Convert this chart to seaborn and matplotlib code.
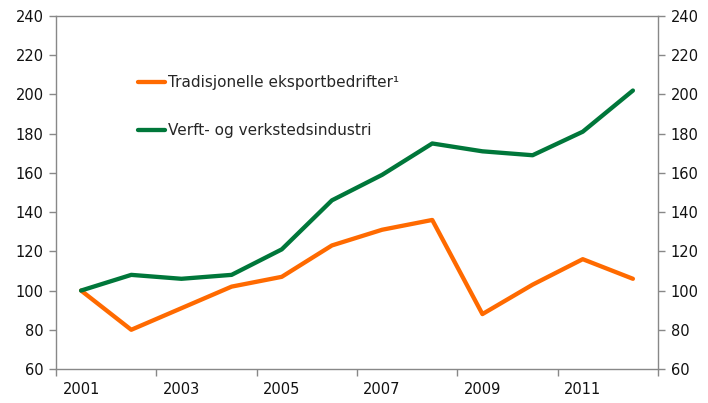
import pandas as pd
import numpy as np
import matplotlib
matplotlib.use("Agg")
import matplotlib.pyplot as plt
import matplotlib.ticker as mticker
import seaborn as sns

# ── Data ──────────────────────────────────────────────────────
years = [2001, 2002, 2003, 2004, 2005, 2006, 2007, 2008, 2009, 2010, 2011, 2012]
tradisjonelle = [100, 80, 91, 102, 107, 123, 131, 136, 88, 103, 116, 106]
verft = [100, 108, 106, 108, 121, 146, 159, 175, 171, 169, 181, 202]
series_names = ["Tradisjonelle eksportbedrifter\u00b9", "Verft- og verkstedsindustri"]
colors = ["#FF6A00", "#00773A"]

df = pd.DataFrame({
    "idx": list(range(len(years))) * 2,
    "value": tradisjonelle + verft,
    "serie": [series_names[0]] * len(years) + [series_names[1]] * len(years),
})

# ── Style ─────────────────────────────────────────────────────
sns.set_style("white")
plt.rcParams["font.family"] = ["DejaVu Sans"]
plt.rcParams["font.size"] = 10.5

fig = plt.figure(figsize=(7.08, 4.03), dpi=100)
ax = fig.add_axes([56 / 708, 34 / 403, 602 / 708, 353 / 403])

sns.lineplot(data=df, x="idx", y="value", hue="serie", palette=colors,
             linewidth=3.1, ax=ax, legend=True)

ax.set_xlim(-0.5, len(years) - 0.5)
ax.set_ylim(60, 240)
ax.yaxis.set_major_locator(mticker.MultipleLocator(20))

# category axis: labels every other year, tick marks at category borders
ax.set_xticks(range(0, len(years), 2))
ax.set_xticklabels([str(y) for y in years[::2]])
ax.set_xticks(np.arange(-0.5, len(years), 2), minor=True)
ax.tick_params(axis="x", which="major", length=0, pad=9, labelsize=10.5, colors="#111111")
ax.tick_params(axis="x", which="minor", length=5, width=1, color="#888888", direction="out", bottom=True)
ax.tick_params(axis="y", length=5, width=1, color="#888888", direction="out",
               left=True, right=True, labelleft=True, labelright=True,
               labelsize=10.5, labelcolor="#111111", pad=4)

for sp in ax.spines.values():
    sp.set_color("#888888")
    sp.set_linewidth(1)

ax.set_xlabel("")
ax.set_ylabel("")

leg = ax.legend(loc="upper left", bbox_to_anchor=(0.126, 0.85), frameon=False,
                fontsize=11, handlelength=1.75, handletextpad=0.2, labelspacing=2.15,
                borderaxespad=0)
for line in leg.get_lines():
    line.set_linewidth(3.1)

fig.savefig("out.png", dpi=100)
